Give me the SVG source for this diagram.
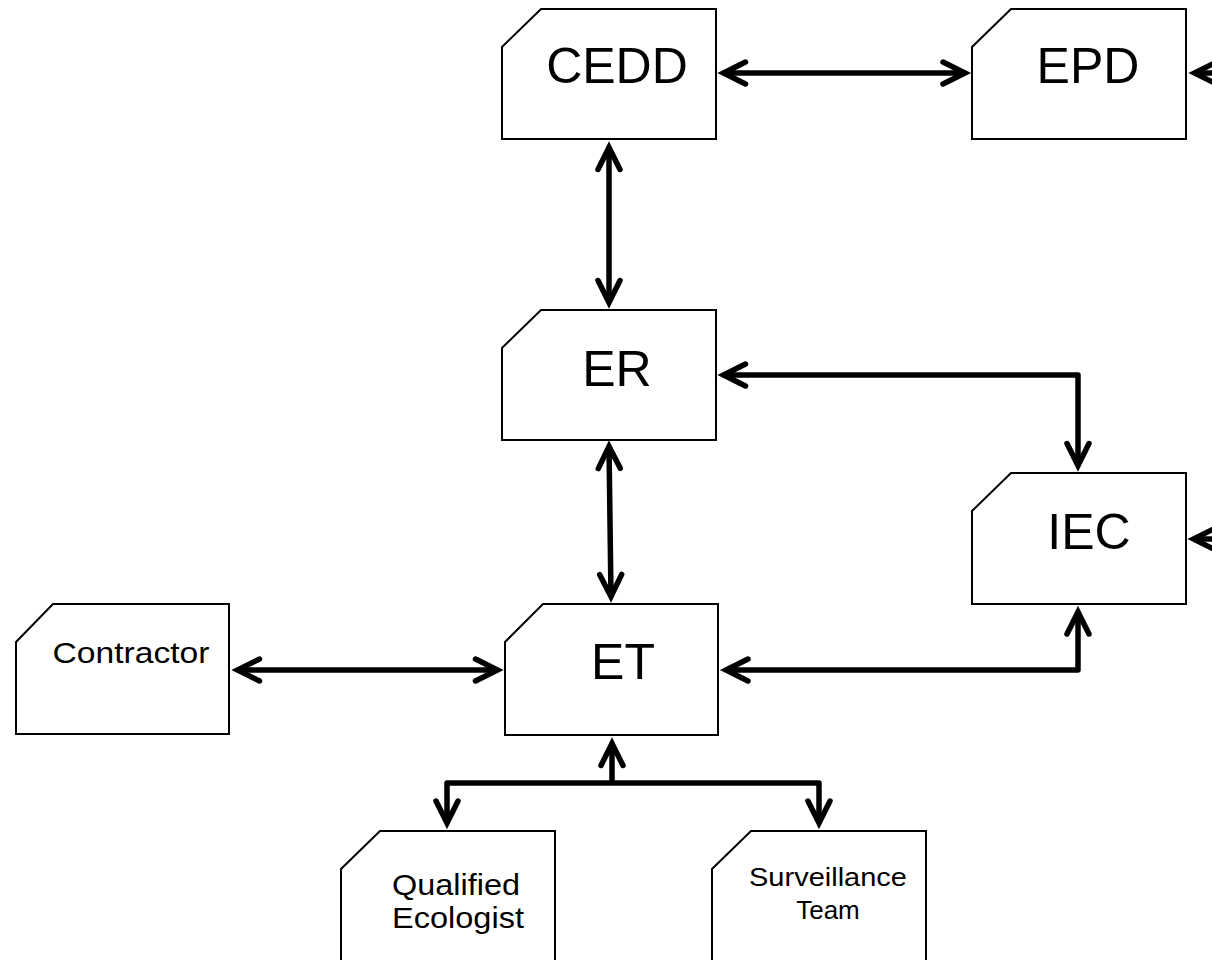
<svg xmlns="http://www.w3.org/2000/svg" width="1212" height="960" viewBox="0 0 1212 960">
<style>
.box{fill:#fff;stroke:#000;stroke-width:2;stroke-linejoin:miter}
.big{font-family:"Liberation Sans",Arial,sans-serif;font-size:50px;fill:#000;text-anchor:middle}
.sm{font-family:"Liberation Sans",Arial,sans-serif;font-size:30px;fill:#000;text-anchor:middle}
.xs{font-family:"Liberation Sans",Arial,sans-serif;font-size:26px;fill:#000;text-anchor:middle}
.conn{fill:none;stroke:#000;stroke-width:5.5;stroke-linejoin:round}
</style>
<defs>
<marker id="chev" markerUnits="userSpaceOnUse" viewBox="-30 -16 40 32" refX="0" refY="0" markerWidth="40" markerHeight="32" orient="auto-start-reverse" overflow="visible">
<path d="M -22 -11 L 0 0 L -22 11" fill="none" stroke="#000" stroke-width="5.5" stroke-linecap="round" stroke-linejoin="miter"/>
</marker>
</defs>
<rect width="1212" height="960" fill="#fff"/>
<g id="connectors">
<path class="conn" d="M 723.5 73 L 965 73" marker-start="url(#chev)" marker-end="url(#chev)"/>
<path class="conn" d="M 1220 73 L 1194.5 73" marker-end="url(#chev)"/>
<path class="conn" d="M 609 147.5 L 609 302.5" marker-start="url(#chev)" marker-end="url(#chev)"/>
<path class="conn" d="M 723.5 375 L 1078 375 L 1078 465.5" marker-start="url(#chev)" marker-end="url(#chev)"/>
<path class="conn" d="M 1220 539 L 1193.5 539" marker-end="url(#chev)"/>
<path class="conn" d="M 609 446.5 L 611 596.5" marker-start="url(#chev)" marker-end="url(#chev)"/>
<path class="conn" d="M 237.5 670 L 497.5 670" marker-start="url(#chev)" marker-end="url(#chev)"/>
<path class="conn" d="M 726 670 L 1078 670 L 1078 612" marker-start="url(#chev)" marker-end="url(#chev)"/>
<path class="conn" d="M 612 783 L 612 743.5" marker-end="url(#chev)"/>
<path class="conn" d="M 447 823 L 447 783 L 819 783 L 819 823" marker-start="url(#chev)" marker-end="url(#chev)"/>
</g>
<g id="node-cedd">
<polygon class="box" points="541,9 716,9 716,139 502,139 502,47"/>
<text class="big" x="617" y="83">CEDD</text>
</g>
<g id="node-epd">
<polygon class="box" points="1011,9 1186,9 1186,139 972,139 972,47"/>
<text class="big" x="1088" y="83">EPD</text>
</g>
<g id="node-er">
<polygon class="box" points="541,310 716,310 716,440 502,440 502,348"/>
<text class="big" x="617" y="386">ER</text>
</g>
<g id="node-iec">
<polygon class="box" points="1011,473 1186,473 1186,604 972,604 972,511"/>
<text class="big" x="1089" y="549">IEC</text>
</g>
<g id="node-et">
<polygon class="box" points="543,604 718,604 718,735 505,735 505,642"/>
<text class="big" x="623" y="679">ET</text>
</g>
<g id="node-contractor">
<polygon class="box" points="53,604 229,604 229,734 16,734 16,642"/>
<text class="sm" x="131" y="663" textLength="157" lengthAdjust="spacingAndGlyphs">Contractor</text>
</g>
<g id="node-qualified-ecologist">
<polygon class="box" points="380,831 555,831 555,970 341,970 341,869"/>
<text class="sm" x="456" y="895" textLength="128" lengthAdjust="spacingAndGlyphs">Qualified</text>
<text class="sm" x="458" y="928" textLength="132" lengthAdjust="spacingAndGlyphs">Ecologist</text>
</g>
<g id="node-surveillance-team">
<polygon class="box" points="751,831 926,831 926,970 712,970 712,869"/>
<text class="xs" x="828" y="886" textLength="158" lengthAdjust="spacingAndGlyphs">Surveillance</text>
<text class="xs" x="828" y="919">Team</text>
</g>
</svg>
